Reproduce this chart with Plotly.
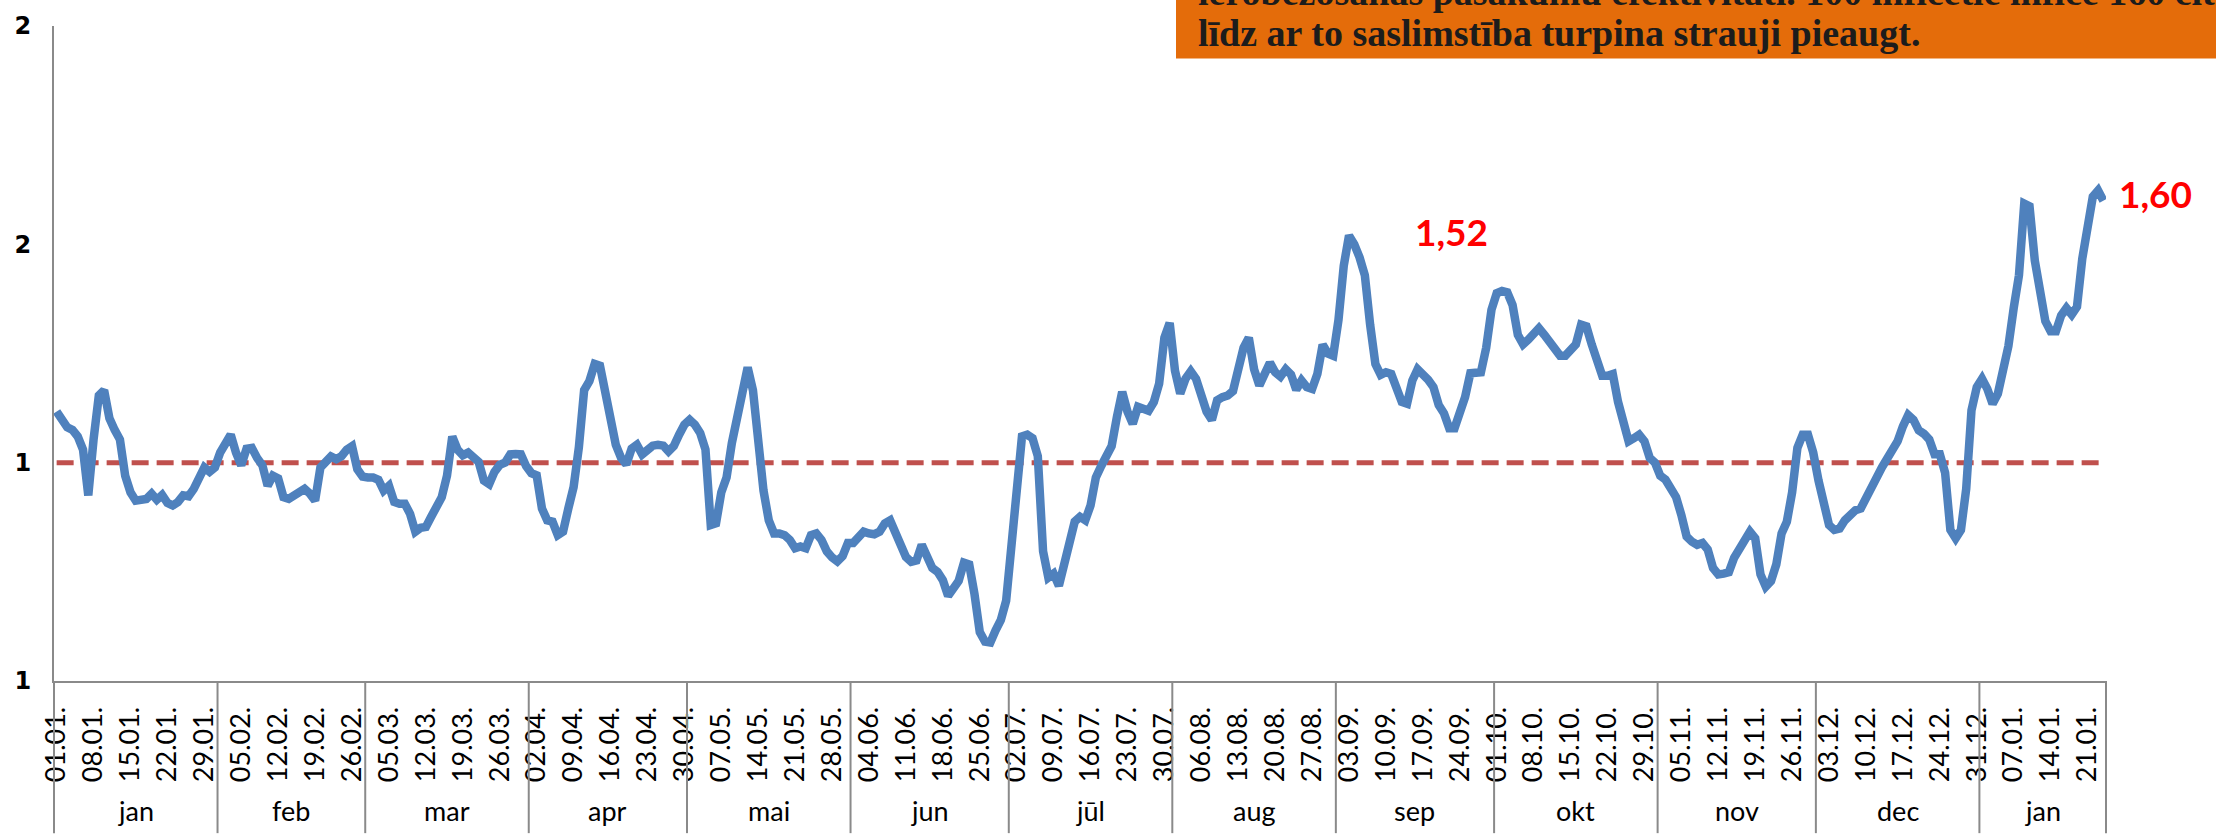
import pandas as pd
import plotly.graph_objects as go

# Daily reproduction number, 01.01.2021 - 24.01.2022, split by month
r_jan_2021 = [1.117, 1.094, 1.081, 1.075, 1.060, 1.030, 0.925, 1.053, 1.154, 1.166,
              1.102, 1.075, 1.053, 0.970, 0.932, 0.913, 0.915, 0.917, 0.929, 0.915,
              0.926, 0.908, 0.902, 0.910, 0.925, 0.923, 0.940, 0.966, 0.989, 0.979,
              0.989]
r_feb_2021 = [1.023, 1.041, 1.064, 1.023, 0.994, 1.032, 1.034, 1.011, 0.994, 0.947,
              0.970, 0.964, 0.921, 0.917, 0.923, 0.931, 0.940, 0.929, 0.913, 0.989,
              1.004, 1.014, 1.008, 1.015, 1.030, 1.038, 0.985, 0.968]
r_mar_2021 = [0.966, 0.966, 0.961, 0.936, 0.947, 0.910, 0.906, 0.906, 0.883, 0.842,
              0.851, 0.853, 0.876, 0.898, 0.921, 0.970, 1.060, 1.030, 1.017, 1.023,
              1.011, 1.002, 0.959, 0.951, 0.979, 0.995, 1.000, 1.019, 1.020, 1.019,
              0.992]
r_apr_2021 = [0.976, 0.971, 0.895, 0.868, 0.865, 0.834, 0.842, 0.895, 0.944, 1.035,
              1.166, 1.187, 1.226, 1.222, 1.158, 1.083, 1.041, 1.011, 0.996, 1.032,
              1.041, 1.019, 1.029, 1.039, 1.041, 1.039, 1.026, 1.038, 1.064, 1.087]
r_may_2021 = [1.098, 1.087, 1.068, 1.030, 0.857, 0.861, 0.932, 0.966, 1.045, 1.098,
              1.150, 1.218, 1.166, 1.030, 0.936, 0.868, 0.838, 0.838, 0.834, 0.823,
              0.804, 0.808, 0.804, 0.834, 0.838, 0.823, 0.797, 0.783, 0.774, 0.786,
              0.816]
r_jun_2021 = [0.816, 0.831, 0.842, 0.838, 0.836, 0.842, 0.861, 0.868, 0.842, 0.807,
              0.784, 0.773, 0.776, 0.812, 0.789, 0.759, 0.750, 0.731, 0.695, 0.714,
              0.729, 0.771, 0.767, 0.699, 0.612, 0.590, 0.588, 0.616, 0.640, 0.684]
r_jul_2021 = [0.819, 0.947, 1.060, 1.064, 1.056, 1.015, 0.797, 0.737, 0.746, 0.718,
              0.767, 0.808, 0.865, 0.876, 0.868, 0.902, 0.966, 0.992, 1.019, 1.038,
              1.105, 1.162, 1.117, 1.089, 1.128, 1.124, 1.119, 1.139, 1.181, 1.286,
              1.320]
r_aug_2021 = [1.211, 1.158, 1.192, 1.209, 1.192, 1.158, 1.117, 1.098, 1.143, 1.150,
              1.154, 1.164, 1.218, 1.263, 1.286, 1.214, 1.177, 1.199, 1.229, 1.207,
              1.197, 1.214, 1.202, 1.167, 1.188, 1.173, 1.169, 1.203, 1.270, 1.250,
              1.245]
r_sep_2021 = [1.327, 1.451, 1.520, 1.500, 1.470, 1.429, 1.316, 1.226, 1.201, 1.207,
              1.203, 1.173, 1.139, 1.135, 1.188, 1.214, 1.203, 1.190, 1.173, 1.132,
              1.113, 1.079, 1.079, 1.113, 1.150, 1.205, 1.205, 1.207, 1.263, 1.350]
r_oct_2021 = [1.388, 1.393, 1.390, 1.361, 1.293, 1.271, 1.282, 1.299, 1.308, 1.293,
              1.278, 1.263, 1.245, 1.245, 1.256, 1.271, 1.316, 1.312, 1.271, 1.233,
              1.199, 1.199, 1.203, 1.139, 1.083, 1.049, 1.056, 1.064, 1.049, 1.011,
              1.000]
r_nov_2021 = [0.970, 0.961, 0.944, 0.921, 0.880, 0.831, 0.819, 0.812, 0.816, 0.801,
              0.759, 0.744, 0.746, 0.749, 0.782, 0.803, 0.823, 0.842, 0.827, 0.744,
              0.716, 0.729, 0.767, 0.838, 0.865, 0.932, 1.034, 1.064, 1.064, 1.023]
r_dec_2021 = [0.959, 0.902, 0.857, 0.846, 0.849, 0.868, 0.883, 0.891, 0.895, 0.921,
              0.947, 0.970, 0.989, 1.009, 1.026, 1.049, 1.083, 1.109, 1.098, 1.074,
              1.066, 1.053, 1.019, 1.019, 0.977, 0.846, 0.827, 0.846, 0.940, 1.120,
              1.173]
r_jan_2022 = [1.192, 1.169, 1.135, 1.158, 1.211, 1.267, 1.354, 1.429, 1.593, 1.587,
              1.463, 1.388, 1.324, 1.301, 1.301, 1.337, 1.354, 1.339, 1.357, 1.467,
              1.527, 1.609, 1.623, 1.600]

r_values = (r_jan_2021 + r_feb_2021 + r_mar_2021 + r_apr_2021 + r_may_2021 + r_jun_2021
            + r_jul_2021 + r_aug_2021 + r_sep_2021 + r_oct_2021 + r_nov_2021 + r_dec_2021
            + r_jan_2022)

dates = pd.date_range("2021-01-01", periods=len(r_values), freq="D")
day_index = list(range(len(dates)))
threshold = [1.0] * len(r_values)

tick_index = day_index[::7]
tick_labels = [d.strftime("%d.%m.") for d in dates[::7]]
month_names = ["jan", "feb", "mar", "apr", "mai", "jun", "jūl", "aug", "sep", "okt",
               "nov", "dec", "jan"]

y_tick_values = [0.5, 1.0, 1.5, 2.0]
y_tick_labels = ["1", "1", "2", "2"]

labelled_dates = ["2021-09-03", "2022-01-24"]

box_line_1 = "ierobežošanas pasākumu efektivitāti. 100 inficētie inficē 160 citus,"
box_line_2 = "līdz ar to saslimstība turpina strauji pieaugt."

# ---- figure geometry ----
W, H = 2216, 835
M_L, M_R, M_T, M_B = 54, 110, 18, 154
PLOT_W, PLOT_H = W - M_L - M_R, H - M_T - M_B
N = len(r_values)


def paper_x(px):
    return (px - M_L) / PLOT_W


def paper_y(py):
    return (H - M_B - py) / PLOT_H


BLUE = "#4F81BD"
RED_LINE = "#C0504D"
AXIS_GREY = "#8A8A8A"
ORANGE = "#E46C0A"

fig = go.Figure()

fig.add_trace(go.Scatter(
    x=day_index, y=threshold, mode="lines",
    line=dict(color=RED_LINE, width=5, dash="17px,8px"),
    hoverinfo="skip", showlegend=False,
))
fig.add_trace(go.Scatter(
    x=day_index, y=r_values, mode="lines",
    line=dict(color=BLUE, width=8.5),
    hoverinfo="skip", showlegend=False,
))

shapes = []
annotations = []

# month group separators and labels under the date axis
groups = pd.Series(day_index).groupby([dates.year, dates.month])
starts = [g.iloc[0] for _, g in groups]
ends = [g.iloc[-1] for _, g in groups]
bottom = paper_y(H)
for s in starts + [N]:
    shapes.append(dict(
        type="line", xref="x domain", yref="paper",
        x0=s / N, x1=s / N, y0=0, y1=bottom,
        line=dict(color=AXIS_GREY, width=2),
    ))
for name, s, e in zip(month_names, starts, ends):
    annotations.append(dict(
        x=(s + e) / 2, y=paper_y(812), xref="x", yref="paper",
        text=name, showarrow=False, xanchor="center", yanchor="middle",
        font=dict(family="Lato", size=27, color="black"),
    ))

# value call-outs
label_offsets = {"2021-09-03": (64, 4), "2022-01-24": (14, 7)}
for ds in labelled_dates:
    i = int(dates.get_loc(pd.Timestamp(ds)))
    v = r_values[i]
    dx, dy = label_offsets[ds]
    annotations.append(dict(
        x=i, y=v, xref="x", yref="y",
        text=f"{v:.2f}".replace(".", ","), showarrow=False,
        xanchor="left", yanchor="middle", xshift=dx, yshift=dy,
        font=dict(family="Lato", size=37, color="#FF0000", weight="bold"),
    ))

# orange commentary box in the top right corner
shapes.append(dict(
    type="rect", xref="paper", yref="paper",
    x0=paper_x(1176), x1=paper_x(W + 10), y0=paper_y(51), y1=paper_y(-10),
    fillcolor=ORANGE, line=dict(width=0), layer="above",
))
for text, cy in [(box_line_1, -16), (box_line_2, 25)]:
    annotations.append(dict(
        x=paper_x(1196), y=paper_y(cy), xref="paper", yref="paper",
        text=text, showarrow=False, xanchor="left", yanchor="middle",
        font=dict(family="Liberation Serif", size=38, color="#1C1C1C", weight="bold"),
    ))

fig.update_layout(
    width=W, height=H, autosize=False,
    margin=dict(l=M_L, r=M_R, t=M_T, b=M_B, pad=0),
    paper_bgcolor="white", plot_bgcolor="white",
    shapes=shapes, annotations=annotations,
    showlegend=False,
)
fig.update_xaxes(
    range=[-0.5, N - 0.5], tickmode="array", tickvals=tick_index, ticktext=tick_labels,
    tickangle=-90, ticks="", ticklabelstandoff=13,
    tickfont=dict(family="Lato", size=27, color="black"),
    showgrid=False, zeroline=False, showline=True, linecolor=AXIS_GREY, linewidth=2,
)
fig.update_yaxes(
    range=[0.5, 2.0], tickmode="array", tickvals=y_tick_values, ticktext=y_tick_labels,
    ticks="", ticklabelstandoff=16,
    tickfont=dict(family="DejaVu Sans", size=24, color="black", weight="bold"),
    showgrid=False, zeroline=False, showline=True, linecolor=AXIS_GREY, linewidth=2,
)

fig.write_html("out.html", config={"displayModeBar": False})
